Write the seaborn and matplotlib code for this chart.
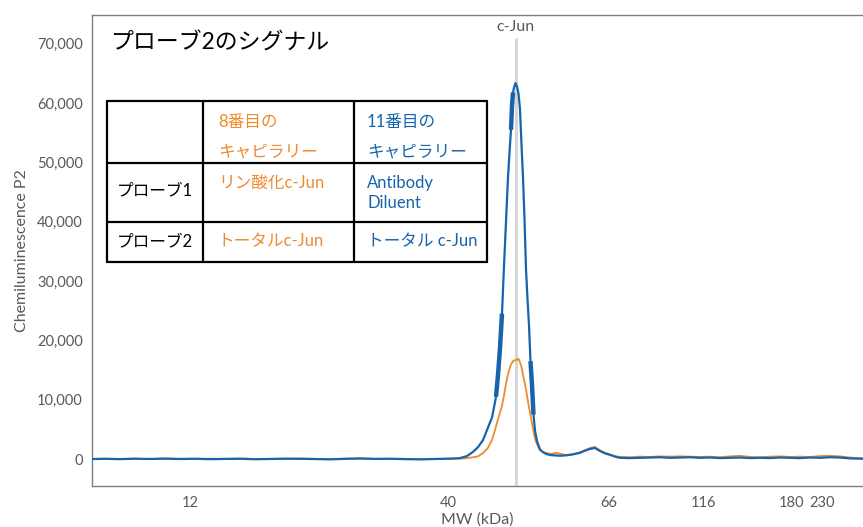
import matplotlib
matplotlib.use('Agg')
import matplotlib.pyplot as plt
import seaborn as sns
import pandas as pd
from matplotlib.lines import Line2D
from matplotlib.transforms import Affine2D
from matplotlib.ticker import FuncFormatter

# migration position along the capillary (arbitrary units)
position = [92, 105, 120, 135, 150, 165, 180, 195, 210, 225, 240, 255, 270, 285, 300,
            315, 330, 345, 360, 375, 390, 405, 420, 435, 450, 460, 467, 473, 478, 483,
            488, 492, 494, 496, 498, 500, 502, 504, 506, 508, 510, 511, 512, 513, 514,
            515.5, 517, 518.5, 520, 521.5, 523, 524.5, 526, 527.5, 529, 530.5, 532, 533.5, 535, 537,
            540, 543, 547, 551, 556, 560, 565, 570, 575, 580, 585, 590, 595, 600, 605,
            610, 615, 620, 630, 640, 650, 660, 670, 680, 690, 700, 710, 720, 730, 740,
            750, 760, 770, 780, 790, 800, 810, 820, 830, 840, 850, 863]

# capillary 8 (orange)
cap8_signal = [0, 60, 0, 80, -20, 100, 30, -20, 60, 0, 80, 20, -30, 40, 90,
               20, -20, 60, 120, 30, 0, 40, -40, 30, 40, 60, 150, 280, 450, 1000,
               1900, 3200, 4300, 5500, 6700, 7800, 9000, 10700, 12700, 14300, 15500, 15900, 16200, 16500, 16600,
               16700, 16750, 16900, 16300, 15500, 14200, 13000, 11700, 10200, 8700, 7500, 6000, 4700, 3400, 2500,
               1500, 1150, 1000, 850, 1050, 900, 700, 700, 900, 1100, 1500, 1850, 2050, 1450, 1050,
               750, 500, 350, 300, 400, 350, 450, 400, 450, 400, 350, 400, 300, 450, 550,
               350, 300, 400, 450, 350, 400, 350, 500, 550, 450, 250, 100]

# capillary 11 (blue)
cap11_signal = [0, 30, -20, 40, 10, 60, 0, 50, -30, 20, 40, -40, 10, 60, 30,
                0, -60, 30, 80, 20, 50, -20, -60, 0, 60, 150, 500, 1200, 2000, 3200,
                5300, 7000, 8700, 10500, 14200, 18700, 24500, 32500, 40000, 47500, 53000, 55500, 59500, 61800, 62600,
                63400, 62800, 61600, 59000, 53000, 47500, 40500, 32000, 27000, 22500, 16500, 12500, 7500, 4800, 3000,
                1600, 1150, 800, 650, 600, 550, 600, 700, 850, 1050, 1400, 1700, 1850, 1350, 950,
                700, 400, 200, 150, 200, 250, 300, 200, 250, 300, 200, 250, 150, 200, 250,
                150, 200, 150, 250, 200, 150, 250, 200, 300, 250, 100, 50]

mw_labels = ['12', '40', '66', '116', '180', '230']
mw_positions = [190, 448, 609, 704, 791, 822]
peak_name = 'c-Jun'
peak_position = 515.5

ORANGE = '#ef8a2e'
BLUE = '#1764ab'
GREY = '#595959'

df = pd.DataFrame({
    'position': position * 2,
    'signal': cap8_signal + cap11_signal,
    'capillary': ['8'] * len(position) + ['11'] * len(position),
})

sns.set_style('white')
plt.rcParams['font.family'] = ['Lato', 'Noto Sans CJK JP', 'DejaVu Sans']

W, H = 863, 527
fig = plt.figure(figsize=(W / 100, H / 100), dpi=100)
ax = fig.add_axes([92 / W, 41 / H, (W - 92) / W, (486 - 15) / H])

# peak marker line
ax.vlines(peak_position, -4600, 71000, color='#d4d4d4', lw=2, zorder=1)
ax.text(peak_position, 72900, peak_name, ha='center', va='center', fontsize=11.5, color=GREY)

sns.lineplot(data=df, x='position', y='signal', hue='capillary', hue_order=['8', '11'],
             palette={'8': ORANGE, '11': BLUE}, estimator=None, sort=True,
             legend=False, ax=ax, zorder=3)
for line, lw in zip(ax.get_lines(), [1.3, 1.6]):
    line.set_linewidth(lw)

# heavier stretches of the blue trace on the steep flanks
blue = df[df['capillary'] == '11']
for lo, hi in [(495.5, 502.5), (510.5, 513.5), (530.5, 534)]:
    seg = blue[(blue['position'] >= lo) & (blue['position'] <= hi)]
    ax.plot(seg['position'], seg['signal'], color=BLUE, lw=3.2, zorder=4, solid_capstyle='butt')

ax.set_xlim(92, 863)
ax.set_ylim(-4550, 74860)
ax.set_yticks(range(0, 70001, 10000))
ax.yaxis.set_major_formatter(FuncFormatter(lambda v, p: f'{int(v):,}'))
ax.set_xticks(mw_positions)
ax.set_xticklabels(mw_labels)
ax.tick_params(axis='both', colors='#7f7f7f', labelcolor=GREY, labelsize=10.5, length=3, width=1)
ax.tick_params(axis='x', pad=4)
ax.set_xlabel('MW (kDa)', fontsize=11.5, color=GREY, labelpad=2)
ax.set_ylabel('Chemiluminescence P2', fontsize=11.5, color=GREY, labelpad=6)
for side in ['left', 'bottom', 'top']:
    ax.spines[side].set_color('#7f7f7f')
    ax.spines[side].set_linewidth(1)
ax.spines['right'].set_visible(False)

# pixel coordinates from the top-left of the figure
pix = Affine2D().scale(1 / W, -1 / H).translate(0, 1) + fig.transFigure

fig.text(110, 43, 'プローブ2のシグナル', transform=pix, fontsize=16.5, color='black',
         ha='left', va='center')

# annotation table
col_x = [107, 203, 354, 487]
row_y = [101, 163, 222, 262]
for x in col_x:
    fig.add_artist(Line2D([x, x], [row_y[0], row_y[-1]], transform=pix, color='black', lw=1.6))
for y in row_y:
    fig.add_artist(Line2D([col_x[0], col_x[-1]], [y, y], transform=pix, color='black', lw=1.6))

cells = [
    (218, 122, '8番目の', ORANGE), (218, 151, 'キャピラリー', ORANGE),
    (367, 122, '11番目の', BLUE), (367, 151, 'キャピラリー', BLUE),
    (117, 190, 'プローブ1', 'black'), (218, 184, 'リン酸化c-Jun', ORANGE),
    (367, 183, 'Antibody', BLUE), (367, 203, 'Diluent', BLUE),
    (117, 241, 'プローブ2', 'black'), (218, 241, 'トータルc-Jun', ORANGE),
    (367, 241, 'トータル c-Jun', BLUE),
]
for x, y, s, c in cells:
    fig.text(x, y, s, transform=pix, fontsize=12, color=c, ha='left', va='center')

fig.savefig('out.png', dpi=100)
